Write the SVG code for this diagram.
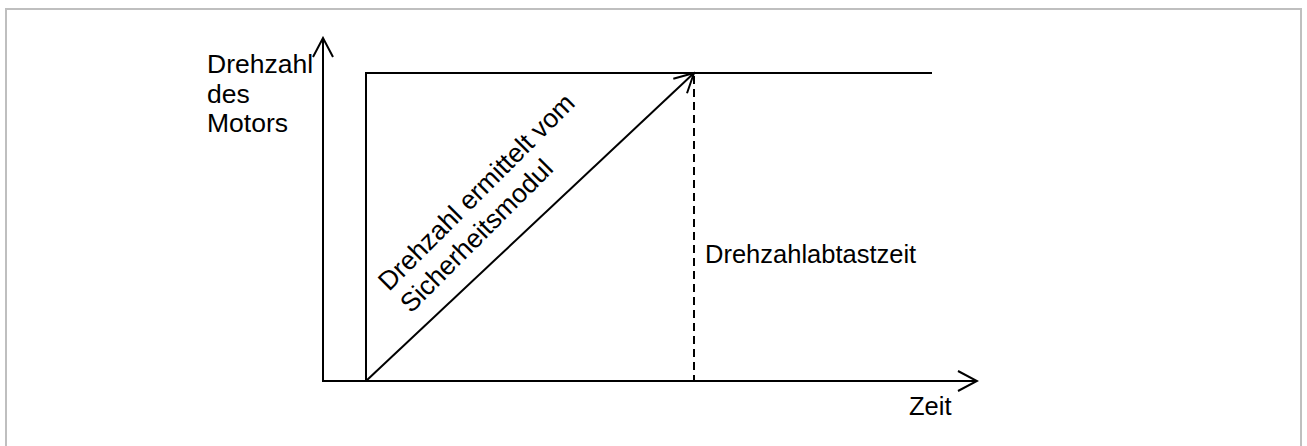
<svg xmlns="http://www.w3.org/2000/svg" width="1307" height="446" viewBox="0 0 1307 446">
  <style>
    .ln { stroke: #000; stroke-width: 2; fill: none; }
    .dash { stroke: #000; stroke-width: 2; fill: none; stroke-dasharray: 8 5; }
    .lbl { font-family: "Liberation Sans", Arial, sans-serif; font-size: 25.5px; fill: #000; }
    .big { font-size: 26.5px; }
  </style>
  <defs>
    <marker id="open" viewBox="0 0 22 22" refX="20" refY="11" markerWidth="22" markerHeight="22" markerUnits="userSpaceOnUse" orient="auto">
      <path d="M1 1 L20 11 L1 21" fill="none" stroke="#000" stroke-width="2"/>
    </marker>
  </defs>

  <!-- frame -->
  <rect x="6" y="9" width="1295" height="450" fill="#fff" stroke="#bfbfbf" stroke-width="2"/>

  <g id="connectors">
    <!-- axes -->
    <line class="ln" x1="323" y1="381" x2="323" y2="38" marker-end="url(#open)"/>
    <line class="ln" x1="322" y1="381" x2="977" y2="381" marker-end="url(#open)"/>
    <!-- step and plateau -->
    <polyline class="ln" points="366,381 366,73 932,73"/>
    <!-- ramp measured by the safety module -->
    <line class="ln" x1="366" y1="381" x2="694" y2="73" marker-end="url(#open)"/>
    <!-- sampling time marker -->
    <line class="dash" x1="694" y1="76" x2="694" y2="381"/>
  </g>

  <g id="y-label">
    <text class="lbl big" x="207" y="73">Drehzahl</text>
    <text class="lbl big" x="207" y="103">des</text>
    <text class="lbl big" x="207" y="132">Motors</text>
  </g>

  <g id="x-label">
    <text class="lbl" x="909" y="415">Zeit</text>
  </g>

  <g id="ramp-label">
    <text class="lbl big" transform="translate(389,292) rotate(-45)">
      <tspan x="0" y="0">Drehzahl ermittelt vom</tspan>
      <tspan x="0" y="31">Sicherheitsmodul</tspan>
    </text>
  </g>

  <g id="sampling-label">
    <text class="lbl" x="705" y="263">Drehzahlabtastzeit</text>
  </g>
</svg>
